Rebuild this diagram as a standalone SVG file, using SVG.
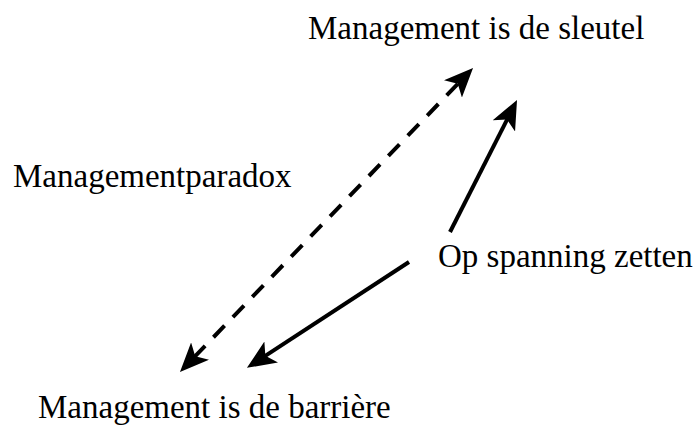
<svg xmlns="http://www.w3.org/2000/svg" width="699" height="429" viewBox="0 0 699 429">
  <style>
    .lbl { font-family: "Liberation Serif", "Times New Roman", serif; font-size: 33px; fill: #000; }
    .edge { stroke: #000; stroke-width: 4; fill: none; }
    .dash { stroke-dasharray: 16 12; stroke-dashoffset: 16; }
  </style>
  <defs>
    <!-- notched arrowhead, tip sits 10px beyond the line end -->
    <marker id="head" viewBox="0 0 29 25" refX="19" refY="12.5" markerUnits="userSpaceOnUse" markerWidth="29" markerHeight="25" orient="auto-start-reverse">
      <path d="M0,0 L29,12.5 L0,25 L7,12.5 Z" fill="#000"/>
    </marker>
  </defs>
  <rect width="699" height="429" fill="#fff"/>
  <g id="connectors">
    <line class="edge dash" x1="466.1" y1="75.2" x2="186.9" y2="364.8" marker-start="url(#head)" marker-end="url(#head)"/>
    <line class="edge" x1="450" y1="232" x2="512.5" y2="108.9" marker-end="url(#head)"/>
    <line class="edge" x1="409" y1="262" x2="255.3" y2="362.4" marker-end="url(#head)"/>
  </g>
  <g id="node-sleutel"><text class="lbl" x="308" y="39">Management is de sleutel</text></g>
  <g id="node-paradox"><text class="lbl" x="13" y="187">Managementparadox</text></g>
  <g id="node-spanning"><text class="lbl" x="438" y="267">Op spanning zetten</text></g>
  <g id="node-barriere"><text class="lbl" x="38" y="418">Management is de barrière</text></g>
</svg>
